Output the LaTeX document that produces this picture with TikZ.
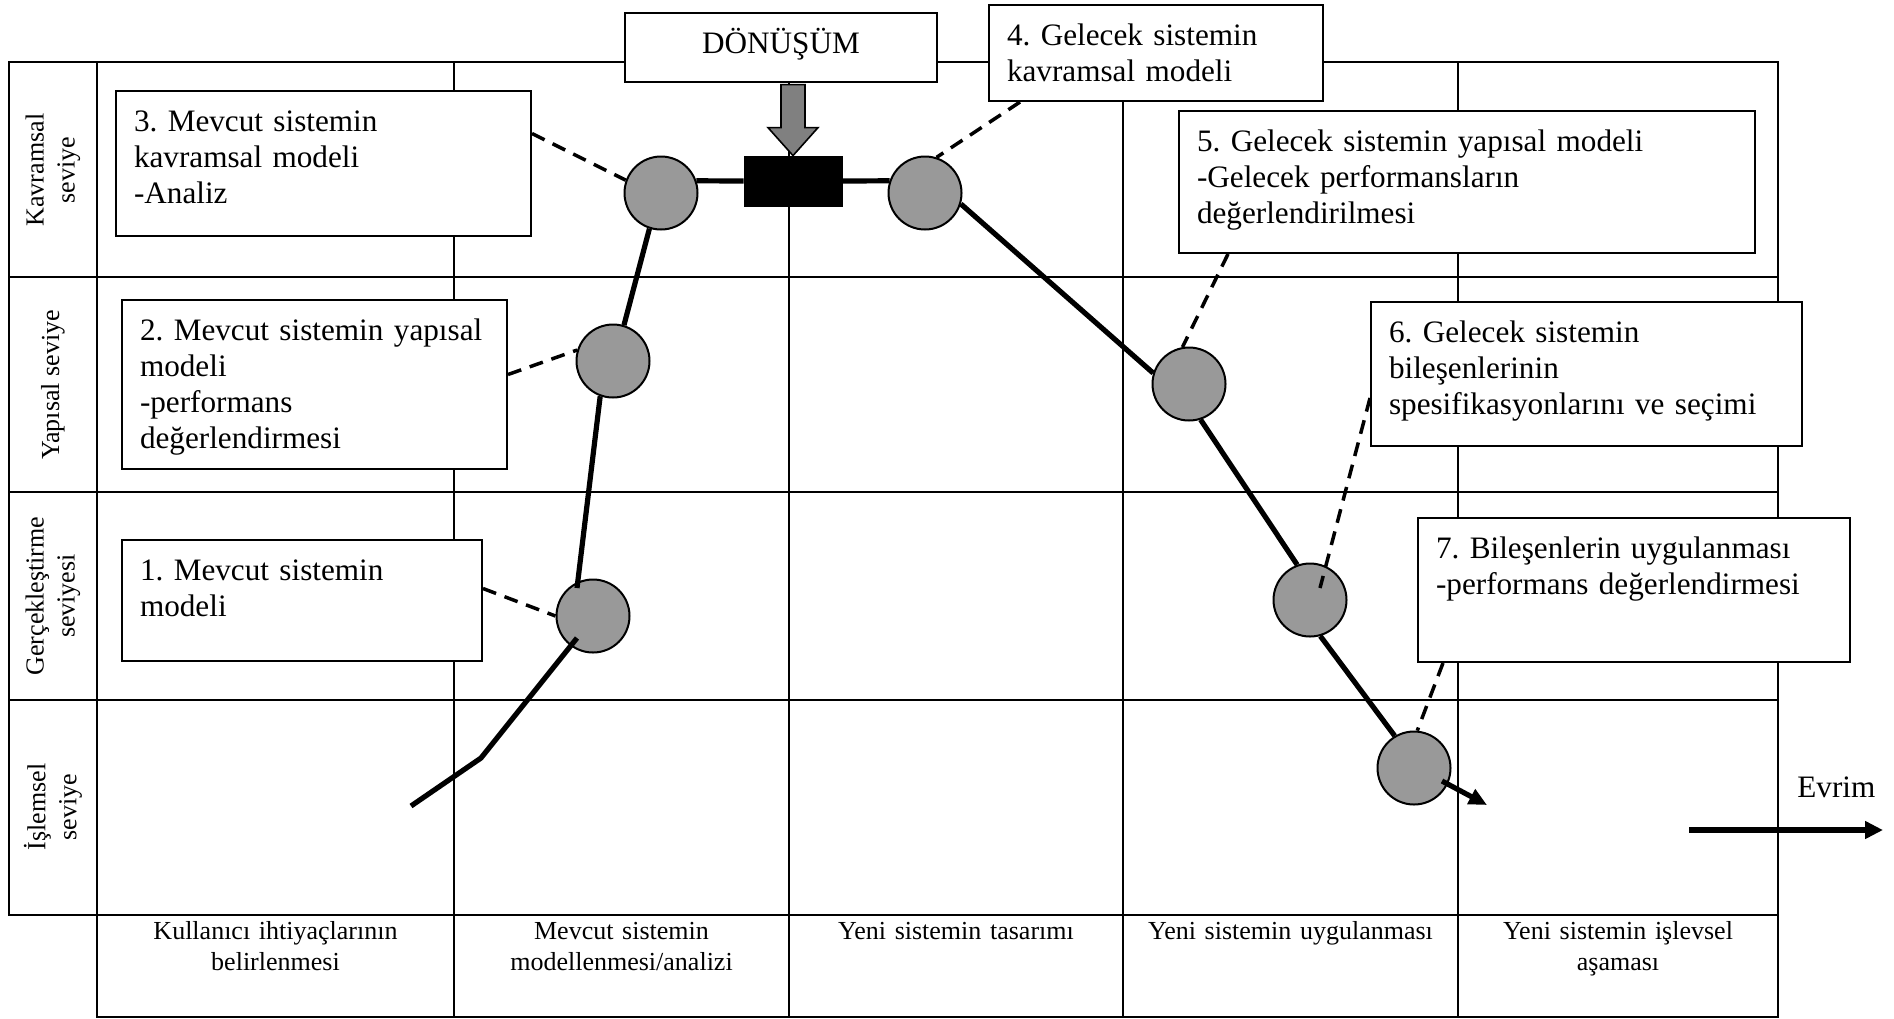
\documentclass[tikz,border=0pt]{standalone}
\usepackage{fontspec}
\setmainfont{Liberation Serif}
\usetikzlibrary{arrows.meta,calc}
\definecolor{stagegray}{RGB}{153,153,153}
\definecolor{arrowgray}{RGB}{128,128,128}
\newcommand{\boxfont}{\fontsize{15.6}{18}\selectfont}
\newcommand{\axisfont}{\fontsize{13}{15.5}\selectfont}
\frenchspacing
\begin{document}
\begin{tikzpicture}[x=0.5pt,y=-0.5pt,
  gridline/.style={line width=1pt, line cap=rect},
  note/.style={draw, fill=white, line width=1pt, inner xsep=9pt, inner ysep=0pt,
    text height=20pt, align=left, anchor=north west, font=\boxfont},
  stage/.style={circle, draw, fill=stagegray, line width=1pt, minimum size=36.5pt, inner sep=0pt},
  level/.style={rotate=90, align=center, font=\axisfont, inner sep=0pt},
  phase/.style={anchor=north, align=center, text width=150pt, text height=12pt,
    inner sep=0pt, font=\axisfont},
  flow/.style={line width=2.6pt},
  link/.style={line width=1.75pt, dash pattern=on 7pt off 4.5pt},
]
\useasboundingbox (0,0) rectangle (1894,1018);

% table of levels and phases
\foreach \y in {62,277,492,700,915} \draw[gridline] (9,\y) -- (1778,\y);
\draw[gridline] (97,1017) -- (1778,1017);
\draw[gridline] (9,62) -- (9,915);
\foreach \x in {97,454,789,1123,1458,1778} \draw[gridline] (\x,62) -- (\x,1017);

% level names
\node[level] (lv1) at (53,170) {Kavramsal\\seviye};
\node[level] (lv2) at (53,385) {Yapısal seviye};
\node[level] (lv3) at (53,596) {Gerçekleştirme\\seviyesi};
\node[level] (lv4) at (53,807) {İşlemsel\\seviye};

% phase names
\node[phase] (ph1) at (275.5,915) {Kullanıcı ihtiyaçlarının\\belirlenmesi};
\node[phase] (ph2) at (621.5,915) {Mevcut sistemin\\modellenmesi/analizi};
\node[phase] (ph3) at (956,915) {Yeni sistemin tasarımı};
\node[phase] (ph4) at (1290.5,915) {Yeni sistemin uygulanması};
\node[phase] (ph5) at (1618,915) {Yeni sistemin işlevsel\\aşaması};

% step descriptions
\node[note, text width=162pt, text depth=40.5pt] (b1) at (121,539) {1. Mevcut sistemin\\modeli};
\node[note, text width=174.5pt, text depth=64.5pt] (b2) at (121,299) {2. Mevcut sistemin yapısal\\modeli\\-performans\\değerlendirmesi};
\node[note, text width=189.5pt, text depth=52.5pt] (b3) at (115,90) {3. Mevcut sistemin\\kavramsal modeli\\-Analiz};
\node[note, text width=149pt, text depth=28pt] (b4) at (988,4) {4. Gelecek sistemin\\kavramsal modeli};
\node[note, text width=270pt, text depth=51pt] (b5) at (1178,110) {5. Gelecek sistemin yapısal modeli\\-Gelecek performansların\\değerlendirilmesi};
\node[note, text width=197.5pt, text depth=52pt] (b6) at (1370,301) {6. Gelecek sistemin\\bileşenlerinin\\spesifikasyonlarını ve seçimi};
\node[note, text width=198pt, text depth=52pt] (b7) at (1417,517) {7. Bileşenlerin uygulanması\\-performans değerlendirmesi};

% transformation
\node[draw, fill=white, line width=1pt, minimum width=156pt, minimum height=34.5pt,
  inner sep=0pt, text height=9pt, text depth=3pt, font=\boxfont] (don) at (781,47.5) {DÖNÜŞÜM};
\node[draw, fill=black, minimum width=49pt, minimum height=25pt, inner sep=0pt] (tr) at (793,181) {};
\draw[fill=arrowgray, line width=0.8pt, line join=miter]
  ([shift={(-12,-71)}]tr.north) -- ([shift={(12,-71)}]tr.north) --
  ([shift={(12,-28)}]tr.north) -- ([shift={(25,-28)}]tr.north) -- (tr.north) --
  ([shift={(-25,-28)}]tr.north) -- ([shift={(-12,-28)}]tr.north) -- cycle;

% stages
\node[stage] (c1) at (593,616) {};
\node[stage] (c2) at (613,361) {};
\node[stage] (c3) at (661,193) {};
\node[stage] (c4) at (925,193) {};
\node[stage] (c5) at (1189,384) {};
\node[stage] (c6) at (1310,600) {};
\node[stage] (c7) at (1414,768) {};

% life-cycle path
\coordinate (p0) at (411,806);
\coordinate (p1) at (481,758);
\coordinate (p9) at (1487,805);
\draw[flow] (p0) -- (p1) -- ([shift={(-16,22)}]c1.center);
\draw[flow] ([shift={(-16,-28)}]c1.center) -- (c2.250);
\draw[flow] (c2.73) -- (c3.252);
\draw[flow] (c3.19) -- (tr.west);
\draw[flow] (tr.east) -- (c4.161);
\draw[flow] (c4.343) -- (c5.163);
\draw[flow] (c5.288) -- (c6.110);
\draw[flow] (c6.286) -- (c7.121);
\draw[flow, -{Triangle[length=9pt,width=8pt]}] ([shift={(28,13)}]c7.center) -- (p9);

% callouts
\draw[link] ([shift={(0,-12)}]b1.east) -- (c1.west);
\draw[link] ([shift={(0,-10)}]b2.east) -- (c2.163);
\draw[link] ([shift={(0,-30)}]b3.east) -- (c3.160);
\draw[link] ([shift={(32,0)}]b4.south west) -- (c4.72);
\draw[link] ([shift={(50,0)}]b5.south west) -- (c5.100);
\draw[link] ([shift={(0,24)}]b6.west) -- ([shift={(10,-12)}]c6.center);
\draw[link] ([shift={(26,0)}]b7.south west) -- (c7.85);

% evolution direction
\node[font=\boxfont, anchor=base west, inner sep=0pt] (ev) at (1797,797) {Evrim};
\coordinate (e0) at (1689,830);
\coordinate (e1) at (1883,830);
\draw[line width=3pt, -{Triangle[length=9pt,width=8.5pt]}] (e0) -- (e1);
\end{tikzpicture}
\end{document}
